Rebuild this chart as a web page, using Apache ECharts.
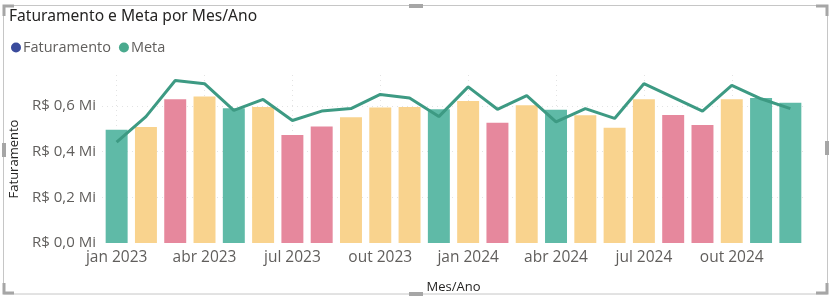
<!DOCTYPE html>
<html>
<head>
<meta charset="utf-8">
<script src="https://cdn.jsdelivr.net/npm/echarts@6/dist/echarts.min.js"></script>
<style>
  html, body { margin: 0; padding: 0; background: #fff; }
  #chart { width: 830px; height: 299px; }
</style>
</head>
<body>
<div id="chart"></div>
<script>
// meses (jan 2023 .. dez 2024)
var meses = ['jan 2023', 'fev 2023', 'mar 2023', 'abr 2023', 'mai 2023', 'jun 2023',
  'jul 2023', 'ago 2023', 'set 2023', 'out 2023', 'nov 2023', 'dez 2023',
  'jan 2024', 'fev 2024', 'mar 2024', 'abr 2024', 'mai 2024', 'jun 2024',
  'jul 2024', 'ago 2024', 'set 2024', 'out 2024', 'nov 2024', 'dez 2024'];

// valores em milhoes de R$
var faturamento = [0.495, 0.507, 0.629, 0.641, 0.590, 0.595,
  0.473, 0.510, 0.550, 0.593, 0.595, 0.585,
  0.621, 0.526, 0.603, 0.583, 0.559, 0.504,
  0.629, 0.560, 0.516, 0.629, 0.634, 0.614];

var meta = [0.441, 0.553, 0.711, 0.697, 0.580, 0.628,
  0.536, 0.577, 0.588, 0.650, 0.634, 0.553,
  0.683, 0.585, 0.645, 0.530, 0.588, 0.545,
  0.697, 0.637, 0.577, 0.690, 0.631, 0.588];

// formatacao condicional: 'ok' = bateu meta, 'perto', 'abaixo'
var situacao = ['ok', 'perto', 'abaixo', 'perto', 'ok', 'perto',
  'abaixo', 'abaixo', 'perto', 'perto', 'perto', 'ok',
  'perto', 'abaixo', 'perto', 'ok', 'perto', 'perto',
  'perto', 'abaixo', 'abaixo', 'perto', 'ok', 'ok'];

var yTicks = [0, 0.2, 0.4, 0.6];

var corSituacao = { ok: '#5fbaa7', perto: '#f9d38e', abaixo: '#e6889d' };

var chart = echarts.init(document.getElementById('chart'));

// moldura do visual (Power BI) com alcas
var handleColor = '#a6a6a6';
var frame = [
  { type: 'rect', shape: { x: 3.5, y: 5.5, width: 824, height: 288.5 }, style: { fill: 'none', stroke: '#c6c6c6', lineWidth: 1 }, silent: true },
  // cantos
  { type: 'polyline', shape: { points: [[4, 16], [4, 6], [14, 6]] }, style: { stroke: handleColor, lineWidth: 3, fill: 'none' } },
  { type: 'polyline', shape: { points: [[816, 6], [827, 6], [827, 16]] }, style: { stroke: handleColor, lineWidth: 3, fill: 'none' } },
  { type: 'polyline', shape: { points: [[4, 283], [4, 293], [14, 293]] }, style: { stroke: handleColor, lineWidth: 3, fill: 'none' } },
  { type: 'polyline', shape: { points: [[816, 293], [827, 293], [827, 283]] }, style: { stroke: handleColor, lineWidth: 3, fill: 'none' } },
  // meio das bordas
  { type: 'rect', shape: { x: 2, y: 143, width: 4, height: 14 }, style: { fill: handleColor } },
  { type: 'rect', shape: { x: 825, y: 141, width: 4, height: 14 }, style: { fill: handleColor } },
  { type: 'rect', shape: { x: 409, y: 292, width: 14, height: 4 }, style: { fill: handleColor } },
  { type: 'rect', shape: { x: 409, y: 4, width: 14, height: 4 }, style: { fill: handleColor } }
];

var option = {
  animation: false,
  backgroundColor: '#fff',
  textStyle: { fontFamily: 'Open Sans' },
  title: {
    text: 'Faturamento e Meta por Mes/Ano',
    left: 4,
    top: 4,
    textStyle: { fontFamily: 'Noto Sans', fontSize: 15.6, fontWeight: 'normal', color: '#252423' }
  },
  legend: {
    left: 6,
    top: 35,
    icon: 'circle',
    itemWidth: 10,
    itemHeight: 10,
    itemGap: 8,
    textStyle: { fontFamily: 'Open Sans', fontSize: 14.5, color: '#605e5c', padding: [0, 0, 0, -3] },
    data: [
      { name: 'Faturamento', itemStyle: { color: '#3a4b9c' } },
      { name: 'Meta', itemStyle: { color: '#4aaa8e' } }
    ]
  },
  grid: { left: 101, right: 25, top: 75, bottom: 54 },
  xAxis: {
    type: 'category',
    data: meses,
    name: 'Mes/Ano',
    nameLocation: 'middle',
    nameGap: 38,
    nameTextStyle: { fontFamily: 'Open Sans', fontSize: 13, color: '#252423' },
    axisLine: { show: false },
    axisTick: { show: false },
    axisLabel: {
      interval: 2,
      margin: 7,
      fontSize: 15.5,
      color: '#605e5c'
    },
    splitLine: {
      show: true,
      interval: 2,
      alignWithLabel: true,
      lineStyle: { color: '#e3e3e3', type: [1, 4], width: 1 }
    }
  },
  yAxis: {
    type: 'value',
    min: 0,
    max: 0.735,
    interval: 0.2,
    name: 'Faturamento',
    nameLocation: 'middle',
    nameGap: 81,
    nameTextStyle: { fontFamily: 'Open Sans', fontSize: 13, color: '#252423' },
    axisLine: { show: false },
    axisTick: { show: false },
    axisLabel: {
      margin: 6,
      fontSize: 15,
      color: '#605e5c',
      showMaxLabel: false,
      formatter: function (v) {
        if (yTicks.indexOf(Math.round(v * 10) / 10) < 0) return '';
        return 'R$ ' + v.toFixed(1).replace('.', ',') + ' Mi';
      }
    },
    splitLine: {
      show: true,
      showMinLine: false,
      showMaxLine: false,
      lineStyle: { color: '#e3e3e3', type: [1, 4], width: 1 }
    }
  },
  series: [
    {
      name: 'Faturamento',
      type: 'bar',
      data: faturamento,
      barWidth: '75%',
      itemStyle: {
        color: function (p) { return corSituacao[situacao[p.dataIndex]]; }
      },
      z: 2
    },
    {
      name: 'Meta',
      type: 'line',
      data: meta,
      showSymbol: false,
      symbol: 'circle',
      itemStyle: { color: '#4aaa8e' },
      lineStyle: { color: '#3d9a83', width: 3 },
      z: 3
    }
  ],
  graphic: frame
};

chart.setOption(option);
</script>
</body>
</html>
